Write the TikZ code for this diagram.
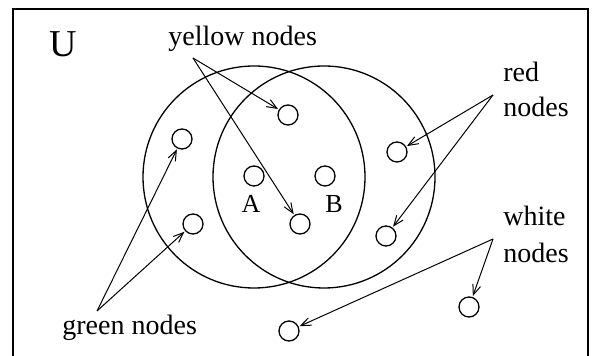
\documentclass[tikz,border=0pt]{standalone}
\usepackage{fontspec}
\setmainfont{Liberation Serif}
\usetikzlibrary{arrows.meta}
\tikzset{
  setcirc/.style={circle,draw,line width=0.65pt,minimum size=111pt,inner sep=0pt},
  elem/.style={circle,draw,line width=0.65pt,minimum size=10pt,inner sep=0pt},
  lbl/.style={font=\fontsize{14}{17.5}\selectfont,inner sep=0pt,align=left},
  ptr/.style={-{Straight Barb[length=5pt,width=4pt]},line width=0.5pt,shorten >=0.5pt},
}

\begin{document}
\begin{tikzpicture}[x=0.5pt,y=-0.5pt]
  \useasboundingbox (0,0) rectangle (593,356);
  % universe frame, cut off at the bottom
  \draw[line width=0.9pt] (13,356) |- (588,9) -- (588,356);
  \node[font=\fontsize{19}{19}\selectfont,inner sep=0pt,anchor=base] (U) at (63,57) {U};
  % the two sets
  \node[setcirc] (setA) at (254,177) {};
  \node[setcirc] (setB) at (324,177) {};
  \node[lbl,font=\fontsize{13}{13}\selectfont,anchor=base] (labA) at (251,213) {A};
  \node[lbl,font=\fontsize{13}{13}\selectfont,anchor=base] (labB) at (334,213) {B};
  % elements
  \node[elem] (y1) at (288,115) {};
  \node[elem] (y2) at (300,224) {};
  \node[elem] (g1) at (182,139) {};
  \node[elem] (g2) at (193,224) {};
  \node[elem] (a) at (254,176) {};
  \node[elem] (b) at (325,176) {};
  \node[elem] (r1) at (397,152) {};
  \node[elem] (r2) at (386,236) {};
  \node[elem] (w1) at (469,307) {};
  \node[elem] (w2) at (289,331) {};
  % labels and pointers
  \node[lbl,anchor=base west] (ylbl) at (168,46) {yellow nodes};
  \node[lbl,anchor=base west] (rlbl) at (503,117) {red\\nodes};
  \node[lbl,anchor=base west,font=\fontsize{14}{18.5}\selectfont] (wlbl) at (503,263) {white\\nodes};
  \node[lbl,anchor=base west] (glbl) at (62,335) {green nodes};
  \coordinate (yapex) at (193,58);
  \coordinate (rapex) at (493,95);
  \coordinate (wapex) at (493,239);
  \coordinate (gapex) at (97,311);
  \draw[ptr] (yapex) -- (y1);
  \draw[ptr] (yapex) -- (y2);
  \draw[ptr] (rapex) -- (r1);
  \draw[ptr] (rapex) -- (r2);
  \draw[ptr] (wapex) -- (w1);
  \draw[ptr] (wapex) -- (w2);
  \draw[ptr] (gapex) -- (g1);
  \draw[ptr] (gapex) -- (g2);
\end{tikzpicture}
\end{document}
